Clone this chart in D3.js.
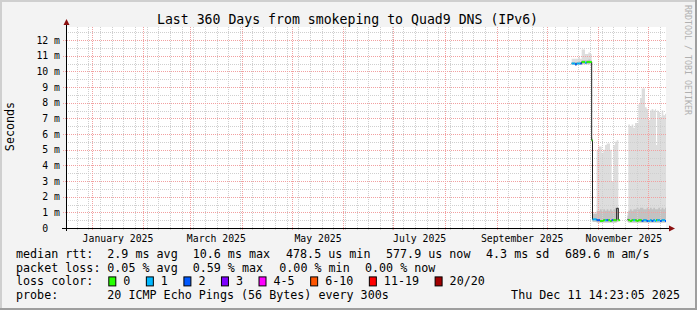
<!DOCTYPE html>
<html>
<head>
<meta charset="utf-8">
<script src="https://cdn.jsdelivr.net/npm/d3@7"></script>
<style>
  body { margin: 0; background: #f3f3f3; }
  svg text { font-family: "DejaVu Sans Mono", monospace; }
</style>
</head>
<body>
<div id="chart"></div>
<script>
// ---- data ----
var title = "Last 360 Days from smokeping to Quad9 DNS (IPv6)";
var endTime = new Date("2025-12-11T14:23:05Z");
var startTime = new Date(+endTime - 360 * 864e5);

var times = [
  "2025-10-16", "2025-10-17", "2025-10-18", "2025-10-19", "2025-10-20", "2025-10-21",
  "2025-10-22", "2025-10-23", "2025-10-24", "2025-10-25", "2025-10-26", "2025-10-27",
  "2025-10-28T00:00Z", "2025-10-28T12:00Z", "2025-10-29", "2025-10-31",
  "2025-11-01", "2025-11-02", "2025-11-03", "2025-11-04", "2025-11-05", "2025-11-06",
  "2025-11-07", "2025-11-08", "2025-11-09", "2025-11-10", "2025-11-11", "2025-11-12",
  "2025-11-13", "2025-11-14", "2025-11-18T12:00Z",
  "2025-11-19", "2025-11-20", "2025-11-21", "2025-11-22", "2025-11-23", "2025-11-24",
  "2025-11-25", "2025-11-26", "2025-11-27", "2025-11-28", "2025-11-29", "2025-11-30",
  "2025-12-01", "2025-12-02", "2025-12-03", "2025-12-04", "2025-12-05", "2025-12-05T15:00Z",
  "2025-12-06T06:00Z", "2025-12-07", "2025-12-08", "2025-12-09", "2025-12-10", "2025-12-11"
];
// median rtt in ms
var medianMs = [
  10.50, 10.50, 10.45, 10.50, 10.50, 10.50,
  10.60, 10.60, 10.55, 10.60, 10.60, 10.60,
  5.6, 0.55, 0.55, 0.50,
  0.50, 0.45, 0.45, 0.50, 0.50, 0.50,
  0.50, 0.45, 0.50, 0.50, 0.50, 1.26,
  0.50, null, 0.55,
  0.50, 0.45, 0.50, 0.50, 0.50, 0.45,
  0.50, 0.50, 0.45, 0.50, 0.50, 0.45,
  0.45, 0.50, 0.45, 0.50, 0.45, 0.50,
  0.50, 0.50, 0.45, 0.50, 0.50, 0.45
];
// lowest ping of the smoke (ms)
var smokeLoMs = [
  10.40, 10.40, 10.35, 10.40, 10.40, 10.40,
  10.45, 10.45, 10.45, 10.45, 10.45, 10.45,
  5.5, 0.40, 0.40, 0.35,
  0.35, 0.35, 0.35, 0.35, 0.35, 0.35,
  0.35, 0.35, 0.35, 0.35, 0.35, 0.40,
  0.35, null, 0.40,
  0.35, 0.35, 0.35, 0.35, 0.35, 0.35,
  0.35, 0.35, 0.35, 0.35, 0.35, 0.35,
  0.35, 0.35, 0.35, 0.35, 0.35, 0.35,
  0.35, 0.35, 0.35, 0.35, 0.35, 0.35
];
// upper edge of the dense (darker) smoke (ms)
var smokeMidMs = [
  10.60, 10.60, 10.60, 10.60, 10.65, 10.60,
  10.70, 10.70, 10.70, 10.70, 10.75, 10.70,
  5.7, 0.90, 0.90, 1.10,
  1.10, 1.20, 1.10, 1.20, 1.10, 1.20,
  1.10, 1.20, 1.10, 1.20, 1.30, 1.30,
  1.20, null, 0.80,
  1.10, 1.20, 1.10, 1.20, 1.20, 1.30,
  1.20, 1.30, 1.30, 1.20, 1.20, 1.30,
  1.20, 1.30, 1.20, 1.30, 1.20, 1.20,
  1.20, 1.30, 1.20, 1.30, 1.20, 1.30
];
// highest ping of the smoke (ms)
var smokeHiMs = [
  10.80, 10.80, 10.80, 10.80, 10.90, 10.80,
  11.40, 11.40, 11.10, 11.10, 11.20, 11.10,
  5.8, 1.00, 1.00, 5.00,
  5.20, 5.20, 4.80, 5.00, 5.30, 5.40,
  5.40, 5.00, 3.00, 5.30, 5.50, 5.60,
  5.60, null, 1.00,
  6.60, 6.50, 6.60, 6.40, 6.70, 6.70,
  7.90, 8.30, 8.90, 8.90, 7.70, 7.60,
  6.90, 7.50, 7.60, 7.50, 7.60, 5.30,
  7.50, 7.40, 7.10, 7.50, 7.20, 7.30
];
// index into lossLabels / lossColors (null = no coloured line)
var lossIdx = [
  1, 1, 2, 1, 1, 2,
  0, 0, 1, 0, 0, 0,
  0, 1, 1, 2,
  2, 0, 0, 0, 1, 2,
  0, 0, 2, 0, 0, null,
  0, null, null,
  0, 0, 0, 1, 0, 0,
  0, 0, 2, 1, 1, 2,
  1, 1, 2, 1, 1, 0,
  1, 1, 2, 1, 1, 2
];

var lossLabels = ["0", "1", "2", "3", "4-5", "6-10", "11-19", "20/20"];
var lossColors = ["#26ff00", "#00b8ff", "#0059ff", "#7e00ff", "#ff00ff", "#ff5500", "#ff0000", "#a10000"];

var yTicks = [0, 1, 2, 3, 4, 5, 6, 7, 8, 9, 10, 11, 12];

var legendRows = [
  [["median rtt:", 16], ["2.9 ms avg", 107.3], ["10.6 ms max", 192.7], ["478.5 us min", 286], ["577.9 us now", 386], ["4.3 ms sd", 486], ["689.6 m am/s", 565]],
  [["packet loss:", 16], ["0.05 % avg", 107.3], ["0.59 % max", 192.7], ["0.00 % min", 279.3], ["0.00 % now", 365]],
  [["loss color:", 16]],
  [["probe:", 16], ["20 ICMP Echo Pings (56 Bytes) every 300s", 107.3]]
];
var stampText = "Thu Dec 11 14:23:05 2025";

// ---- layout ----
var W = 697, H = 310;
var pL = 66, pR = 666, pT = 27, pB = 228;
var legendFont = 11.7, axisFont = 9.8;

var data = times.map(function(t, i) {
  return { t: new Date(t), med: medianMs[i], lo: smokeLoMs[i], mid: smokeMidMs[i], hi: smokeHiMs[i], loss: lossIdx[i] };
});
// close the last step at the end of the graph
var stepData = data.concat([Object.assign({}, data[data.length - 1], { t: endTime })]);

var x = d3.scaleUtc().domain([startTime, endTime]).range([pL, pR]);
var y = d3.scaleLinear().domain([0, 12.83]).range([pB, pT]);

var svg = d3.select("#chart").append("svg")
  .attr("width", W).attr("height", H);

svg.append("rect").attr("width", W).attr("height", H).attr("fill", "#f3f3f3");
// frame shading
svg.append("rect").attr("x", 0).attr("y", 0).attr("width", W).attr("height", 2).attr("fill", "#cfcfcf");
svg.append("rect").attr("x", 0).attr("y", 0).attr("width", 2).attr("height", H).attr("fill", "#cfcfcf");
svg.append("rect").attr("x", 0).attr("y", H - 2).attr("width", W).attr("height", 2).attr("fill", "#9e9e9e");
svg.append("rect").attr("x", W - 2).attr("y", 0).attr("width", 2).attr("height", H).attr("fill", "#9e9e9e");

// canvas
svg.append("rect").attr("x", pL).attr("y", pT)
  .attr("width", pR - pL).attr("height", pB - pT).attr("fill", "#ffffff");

// title
svg.append("text").attr("x", 347.5).attr("y", 23.5)
  .attr("text-anchor", "middle").attr("font-size", 13.2).attr("fill", "#000")
  .text(title);

// smoke
var defined = function(d) { return d.med != null; };
svg.append("path").datum(stepData)
  .attr("fill", "#dddddd")
  .attr("d", d3.area().defined(defined).curve(d3.curveStepAfter)
    .x(function(d) { return x(d.t); }).y0(function(d) { return y(d.lo); }).y1(function(d) { return y(d.hi); }));
svg.append("path").datum(stepData)
  .attr("fill", "#c2c2c2")
  .attr("d", d3.area().defined(defined).curve(d3.curveStepAfter)
    .x(function(d) { return x(d.t); }).y0(function(d) { return y(d.lo); }).y1(function(d) { return y(d.mid); }));

// grid
var grid = svg.append("g").attr("shape-rendering", "crispEdges");
var minorY = d3.range(1, 26).map(function(v) { return v / 2; }).filter(function(v) { return v % 1 !== 0 && y(v) >= pT; });
grid.selectAll(".my").data(minorY).enter().append("line")
  .attr("x1", pL).attr("x2", pR)
  .attr("y1", function(d) { return Math.round(y(d)) + 0.5; }).attr("y2", function(d) { return Math.round(y(d)) + 0.5; })
  .attr("stroke", "#cfcfcf").attr("stroke-dasharray", "1,1");
var weeks = d3.utcMonday.range(startTime, endTime);
grid.selectAll(".mx").data(weeks).enter().append("line")
  .attr("x1", function(d) { return Math.round(x(d)) + 0.5; }).attr("x2", function(d) { return Math.round(x(d)) + 0.5; })
  .attr("y1", pT).attr("y2", pB + 2)
  .attr("stroke", "#cfcfcf").attr("stroke-dasharray", "1,1");
grid.selectAll(".My").data(yTicks.filter(function(v) { return v > 0; })).enter().append("line")
  .attr("x1", pL - 3).attr("x2", pR)
  .attr("y1", function(d) { return Math.round(y(d)) + 0.5; }).attr("y2", function(d) { return Math.round(y(d)) + 0.5; })
  .attr("stroke", "#f2a0a0").attr("stroke-dasharray", "1,1");
var months = d3.utcMonth.range(startTime, endTime);
grid.selectAll(".Mx").data(months).enter().append("line")
  .attr("x1", function(d) { return Math.round(x(d)) + 0.5; }).attr("x2", function(d) { return Math.round(x(d)) + 0.5; })
  .attr("y1", pT).attr("y2", pB + 3)
  .attr("stroke", "#f2a0a0").attr("stroke-dasharray", "1,1");

// median: dark base line, then loss-coloured steps on top
svg.append("path").datum(stepData)
  .attr("fill", "none").attr("stroke", "#202020").attr("stroke-width", 1)
  .attr("d", d3.line().defined(defined).curve(d3.curveStepAfter)
    .x(function(d) { return x(d.t); }).y(function(d) { return y(d.med); }));
var segs = data.map(function(d, i) { return { d: d, t1: stepData[i + 1].t }; })
  .filter(function(s) { return s.d.med != null && s.d.loss != null; });
svg.selectAll(".seg").data(segs).enter().append("line")
  .attr("x1", function(s) { return x(s.d.t); }).attr("x2", function(s) { return x(s.t1); })
  .attr("y1", function(s) { return y(s.d.med); }).attr("y2", function(s) { return y(s.d.med); })
  .attr("stroke", function(s) { return lossColors[s.d.loss]; }).attr("stroke-width", 2);

// axes lines + arrows
svg.append("line").attr("x1", pL - 4).attr("x2", pR + 3).attr("y1", pB + 0.5).attr("y2", pB + 0.5)
  .attr("stroke", "#000").attr("shape-rendering", "crispEdges");
svg.append("line").attr("x1", pL + 0.5).attr("x2", pL + 0.5).attr("y1", pB + 3).attr("y2", pT - 3)
  .attr("stroke", "#000").attr("shape-rendering", "crispEdges");
svg.append("path").attr("d", "M" + (pL - 2.5) + "," + (pT - 2) + "L" + (pL + 3.5) + "," + (pT - 2) + "L" + (pL + 0.5) + "," + (pT - 8) + "Z")
  .attr("fill", "#8b1010");
svg.append("path").attr("d", "M" + (pR + 3) + "," + (pB - 2.5) + "L" + (pR + 3) + "," + (pB + 3.5) + "L" + (pR + 9) + "," + (pB + 0.5) + "Z")
  .attr("fill", "#8b1010");

// y axis labels
var yAxis = svg.append("g").attr("transform", "translate(60,0)")
  .call(d3.axisLeft(y).tickValues(yTicks).tickSize(0).tickPadding(0)
    .tickFormat(function(v) { return v === 0 ? "0" : v + " m"; }));
yAxis.select(".domain").remove();
yAxis.selectAll("text").attr("font-family", "DejaVu Sans Mono, monospace").attr("font-size", axisFont)
  .attr("fill", "#000").attr("dx", function(v) { return v === 0 ? -11.8 : 0; });

// x axis labels (centered on the month, every second month)
var labelMonths = d3.utcMonth.every(2).range(startTime, endTime).filter(function(m) { return d3.utcMonth.offset(m, 1) <= endTime; });
var mids = labelMonths.map(function(m) { return new Date((+m + +d3.utcMonth.offset(m, 1)) / 2); });
var xAxis = svg.append("g").attr("transform", "translate(0," + pB + ")")
  .call(d3.axisBottom(x).tickValues(mids).tickSize(0).tickPadding(0).tickFormat(d3.utcFormat("%B %Y")));
xAxis.select(".domain").remove();
xAxis.selectAll("text").attr("font-family", "DejaVu Sans Mono, monospace").attr("font-size", axisFont)
  .attr("fill", "#000").attr("dy", null).attr("y", 13.5);

// y title
svg.append("text").attr("transform", "translate(14,126.5) rotate(-90)")
  .attr("text-anchor", "middle").attr("font-size", legendFont).attr("fill", "#000")
  .text("Seconds");

// watermark
svg.append("text").attr("transform", "translate(684.5,5) rotate(90)")
  .attr("font-size", 8.3).attr("fill", "#b0b0b0")
  .text("RRDTOOL / TOBI OETIKER");

// legend
var rowY = [258, 271.7, 285.4, 299];
legendRows.forEach(function(row, r) {
  row.forEach(function(item) {
    svg.append("text").attr("x", item[1]).attr("y", rowY[r])
      .attr("font-size", legendFont).attr("fill", "#000")
      .style("white-space", "pre").text(item[0]);
  });
});
var charW = 7.05;
var bx = 108.3;
lossLabels.forEach(function(lbl, i) {
  svg.append("rect").attr("x", bx + 0.5).attr("y", rowY[2] - 8.5).attr("width", 7).attr("height", 9)
    .attr("fill", lossColors[i]).attr("stroke", "#000").attr("stroke-width", 1);
  svg.append("text").attr("x", bx + 15).attr("y", rowY[2])
    .attr("font-size", legendFont).attr("fill", "#000").text(lbl);
  bx = bx + 15 + lbl.length * charW + 15.5;
});
svg.append("text").attr("x", 680).attr("y", rowY[3]).attr("text-anchor", "end")
  .attr("font-size", legendFont).attr("fill", "#000").text(stampText);
</script>
</body>
</html>
